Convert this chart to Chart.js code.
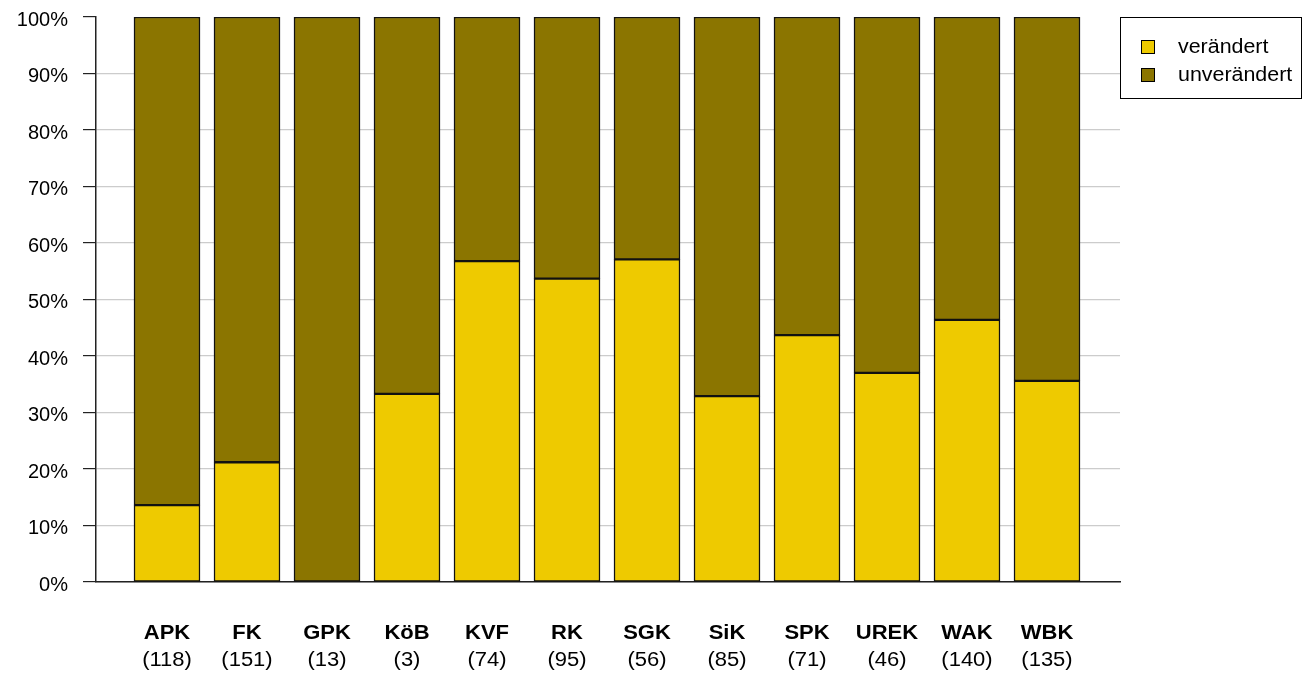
<!DOCTYPE html>
<html lang="de">
<head>
  <meta charset="UTF-8" />
  <title>verändert / unverändert</title>
  <script src="https://cdn.jsdelivr.net/npm/chart.js"></script>
  <style>
    body { margin: 0; padding: 0; background: #fff; }
    #wrap { width: 1308px; height: 675px; }
  </style>
</head>
<body>
  <div id="wrap"><canvas id="chart" width="1308" height="675"></canvas></div>

  <script>
    const kategorien = ["APK", "FK", "GPK", "KöB", "KVF", "RK", "SGK", "SiK", "SPK", "UREK", "WAK", "WBK"];
    const anzahl = [118, 151, 13, 3, 74, 95, 56, 85, 71, 46, 140, 135];
    const veraendert = [13.6, 21.2, 0, 33.3, 56.8, 53.7, 57.1, 32.9, 43.7, 37.0, 46.4, 35.6];
    const unveraendert = [86.4, 78.8, 100, 66.7, 43.2, 46.3, 42.9, 67.1, 56.3, 63.0, 53.6, 64.4];
    const yTicks = [0, 10, 20, 30, 40, 50, 60, 70, 80, 90, 100];

    const FONT = '"Liberation Sans", Arial, sans-serif';
    const GELB = "#eeca00";
    const OLIV = "#8b7500";

    // Text leicht in die Breite gezogen
    function breitText(ctx, text, x, y, sx) {
      ctx.save();
      ctx.translate(x, y);
      ctx.scale(sx, 1);
      ctx.fillText(text, 0, 0);
      ctx.restore();
    }

    // Beschriftung unter den Balken: Kürzel fett, Anzahl normal darunter
    const xLabels = {
      id: "xLabels",
      afterDraw(chart) {
        const ctx = chart.ctx;
        const xs = chart.scales.x;
        ctx.save();
        ctx.fillStyle = "#000";
        ctx.textAlign = "center";
        ctx.textBaseline = "middle";
        kategorien.forEach((k, i) => {
          const x = xs.getPixelForValue(i);
          ctx.font = "bold 20px " + FONT;
          breitText(ctx, k, x, 633, 1.1);
          ctx.font = "20px " + FONT;
          breitText(ctx, "(" + anzahl[i] + ")", x, 660, 1.1);
        });
        ctx.restore();
      }
    };

    // Legende mit Rahmen rechts oben
    const boxLegend = {
      id: "boxLegend",
      afterDraw(chart) {
        const ctx = chart.ctx;
        const left = chart.chartArea.right;
        const top = chart.chartArea.top;
        ctx.save();
        ctx.strokeStyle = "#000";
        ctx.lineWidth = 1;
        ctx.strokeRect(left + 0.5, top + 0.5, 181, 81);
        ctx.font = "20px " + FONT;
        ctx.textBaseline = "middle";
        ctx.textAlign = "left";
        chart.data.datasets.forEach((ds, i) => {
          const y = top + 30 + i * 28;
          ctx.fillStyle = ds.backgroundColor;
          ctx.fillRect(left + 21, y - 7, 14, 14);
          ctx.strokeRect(left + 21.5, y - 6.5, 13, 13);
          ctx.fillStyle = "#000";
          breitText(ctx, ds.label, left + 58, y, 1.07);
        });
        ctx.restore();
      }
    };

    const ctx = document.getElementById("chart").getContext("2d");
    new Chart(ctx, {
      type: "bar",
      data: {
        datasets: [
          {
            label: "verändert",
            data: veraendert.map((v, i) => ({ x: i, y: v })),
            backgroundColor: GELB,
            borderColor: "#111",
            borderWidth: 1.5,
            borderSkipped: false,
            barThickness: 66,
          },
          {
            label: "unverändert",
            data: unveraendert.map((v, i) => ({ x: i, y: v })),
            backgroundColor: OLIV,
            borderColor: "#111",
            borderWidth: 1.5,
            borderSkipped: false,
            barThickness: 66,
          },
        ],
      },
      options: {
        responsive: false,
        animation: false,
        layout: { padding: { top: 17, right: 188, left: 0, bottom: 0 } },
        plugins: {
          legend: { display: false },
          tooltip: { enabled: false },
        },
        scales: {
          x: {
            type: "linear",
            stacked: true,
            offset: false,
            min: -0.8875,
            max: 11.9125,
            grid: { display: false },
            ticks: { display: false },
            border: { color: "#222", width: 1.5 },
            afterFit: (s) => { s.height = 93; s.paddingLeft = 0; s.paddingRight = 0; },
          },
          y: {
            stacked: true,
            min: 0,
            max: 100,
            afterBuildTicks: (s) => { s.ticks = yTicks.map((v) => ({ value: v })); },
            ticks: {
              callback: (v) => v + "%",
              color: "#000",
              font: { family: FONT, size: 20 },
              padding: 15,
              labelOffset: 3,
            },
            grid: {
              color: (c) => (c.tick && c.tick.value === 100 ? "rgba(0,0,0,0)" : "#cccccc"),
              tickColor: "#222",
              tickLength: 13,
              lineWidth: 1.2,
            },
            border: { color: "#222", width: 1.5 },
            afterFit: (s) => { s.width = 96; s.paddingTop = 0; s.paddingBottom = 0; },
          },
        },
      },
      plugins: [xLabels, boxLegend],
    });
  </script>
</body>
</html>
